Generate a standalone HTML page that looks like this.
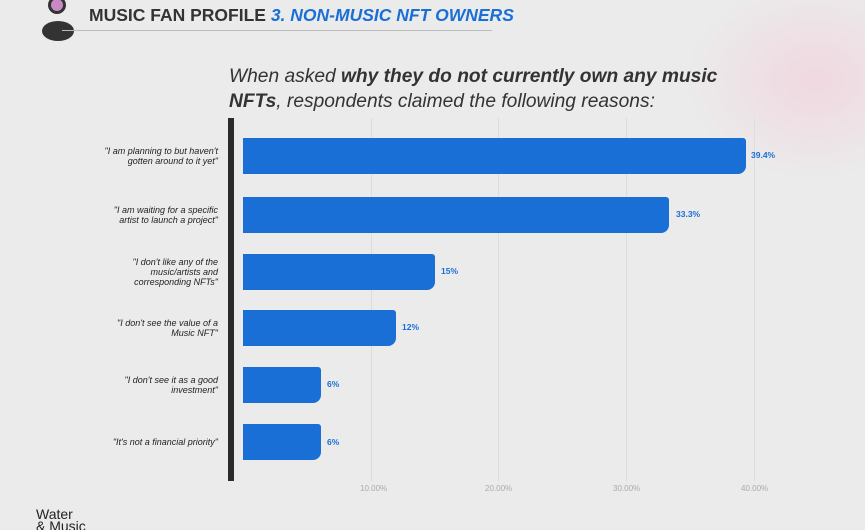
<!DOCTYPE html>
<html><head><meta charset="utf-8"><style>
body{margin:0}
#c{position:relative;width:865px;height:530px;overflow:hidden;background:#ebebeb;font-family:"Liberation Sans",sans-serif;}
.t{position:absolute;white-space:nowrap}
.lab{position:absolute;right:647px;text-align:right;font-style:italic;font-size:9px;line-height:10px;color:#222;white-space:nowrap}
.bar{position:absolute;left:243px;height:36px;background:#1a6fd6;border-radius:0 3px 8px 0}
.v{position:absolute;font-size:8.5px;font-weight:bold;color:#1a6fd6}
.tick{position:absolute;top:484px;font-size:8px;color:#aaa}
.g{position:absolute;top:118px;width:1px;height:363px;background:#ddd}
</style></head><body><div id="c">
<div style="position:absolute;right:-80px;top:-20px;width:260px;height:200px;border-radius:50%;background:radial-gradient(#f0d8e0,rgba(235,235,235,0) 70%)"></div>
<div style="position:absolute;left:48px;top:-4px;width:18px;height:18px;border-radius:50%;background:#c98ac4;border:3px solid #333;box-sizing:border-box"></div>
<div style="position:absolute;left:42px;top:21px;width:32px;height:20px;border-radius:50%;background:#333"></div>
<div style="position:absolute;left:62px;top:30px;width:430px;height:1px;background:#bbb"></div>
<div class="t" style="left:89px;top:5px;font-size:17.5px;font-weight:bold;color:#333">MUSIC FAN PROFILE <span style="color:#1a6fd6;font-style:italic">3. NON-MUSIC NFT OWNERS</span></div>
<div class="t" style="left:229px;top:64px;font-size:19.2px;font-style:italic;color:#333;line-height:25px">When asked <b>why they do not currently own any music</b><br><b>NFTs</b>, respondents claimed the following reasons:</div>
<div class="g" style="left:371px"></div><div class="g" style="left:498px"></div><div class="g" style="left:626px"></div><div class="g" style="left:754px"></div>
<div style="position:absolute;left:228px;top:118px;width:6px;height:363px;background:#2a2a2a"></div>
<div class="lab" style="top:146px">"I am planning to but haven't<br>gotten around to it yet"</div>
<div class="bar" style="top:138px;width:503px"></div><div class="v" style="left:751px;top:150px">39.4%</div>
<div class="lab" style="top:205px">"I am waiting for a specific<br>artist to launch a project"</div>
<div class="bar" style="top:197px;width:426px"></div><div class="v" style="left:676px;top:209px">33.3%</div>
<div class="lab" style="top:257px">"I don't like any of the<br>music/artists and<br>corresponding NFTs"</div>
<div class="bar" style="top:254px;width:192px"></div><div class="v" style="left:441px;top:266px">15%</div>
<div class="lab" style="top:318px">"I don't see the value of a<br>Music NFT"</div>
<div class="bar" style="top:310px;width:153px"></div><div class="v" style="left:402px;top:322px">12%</div>
<div class="lab" style="top:375px">"I don't see it as a good<br>investment"</div>
<div class="bar" style="top:367px;width:78px"></div><div class="v" style="left:327px;top:379px">6%</div>
<div class="lab" style="top:437px">"It's not a financial priority"</div>
<div class="bar" style="top:424px;width:78px"></div><div class="v" style="left:327px;top:437px">6%</div>
<div class="tick" style="left:360px">10.00%</div><div class="tick" style="left:485px">20.00%</div><div class="tick" style="left:613px">30.00%</div><div class="tick" style="left:741px">40.00%</div>
<div class="t" style="left:36px;top:508px;font-size:14px;line-height:12px;color:#222">Water<br>&amp; Music</div>
</div></body></html>
